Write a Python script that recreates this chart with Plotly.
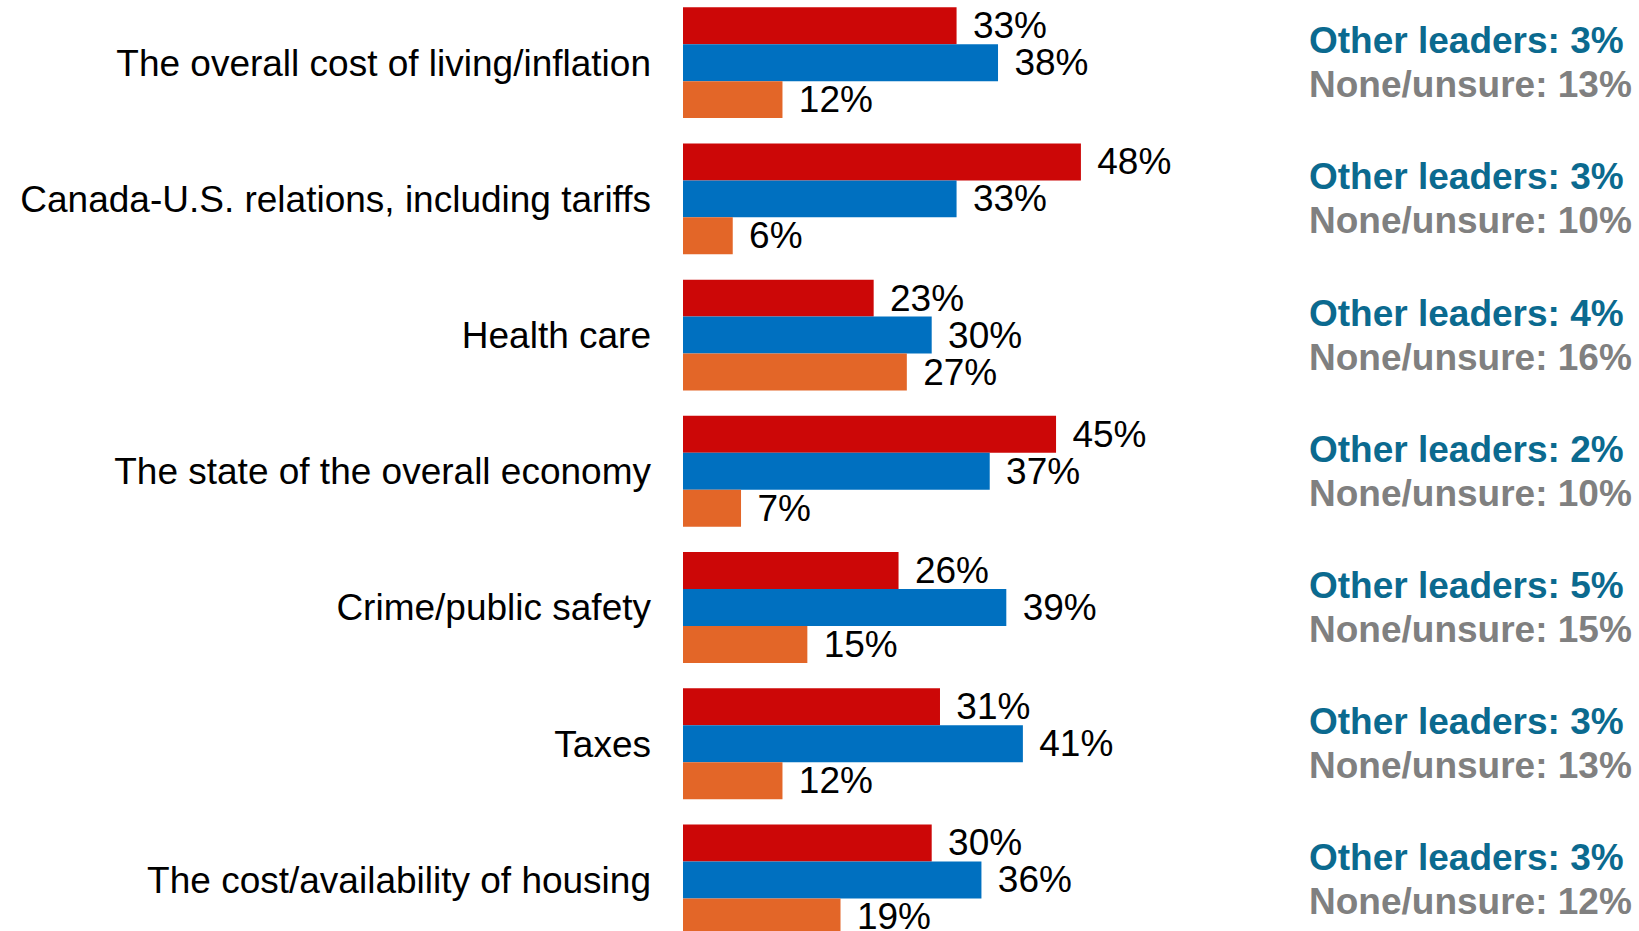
import plotly.graph_objects as go

categories = [
    "The overall cost of living/inflation",
    "Canada-U.S. relations, including tariffs",
    "Health care",
    "The state of the overall economy",
    "Crime/public safety",
    "Taxes",
    "The cost/availability of housing",
]
red_values = [33, 48, 23, 45, 26, 31, 30]
blue_values = [38, 33, 30, 37, 39, 41, 36]
orange_values = [12, 6, 27, 7, 15, 12, 19]
other_leaders = [3, 3, 4, 2, 5, 3, 3]
none_unsure = [13, 10, 16, 10, 15, 13, 12]

RED = "#CC0707"
BLUE = "#0070C0"
ORANGE = "#E36628"
TEAL = "#0B6A8F"
GRAY = "#808080"
FONT = "Liberation Sans, Arial, sans-serif"

fig = go.Figure()
for vals, col in [(red_values, RED), (blue_values, BLUE), (orange_values, ORANGE)]:
    fig.add_trace(go.Bar(
        y=categories, x=vals, orientation="h",
        marker=dict(color=col, line=dict(width=0)),
        text=[f"\u00a0\u200a{v}%" for v in vals],
        textposition="outside", constraintext="none", cliponaxis=True,
        textfont=dict(family=FONT, size=37, color="black"),
        hoverinfo="skip", showlegend=False,
    ))

for i, cat in enumerate(categories):
    fig.add_annotation(
        x=0.6527, xref="paper", y=cat, yref="y", xanchor="left", yanchor="middle",
        yshift=22, showarrow=False,
        text=f"<b>Other leaders: {other_leaders[i]}%</b>",
        font=dict(family=FONT, size=37, color=TEAL),
    )
    fig.add_annotation(
        x=0.6527, xref="paper", y=cat, yref="y", xanchor="left", yanchor="middle",
        yshift=-22, showarrow=False,
        text=f"<b>None/unsure: {none_unsure[i]}%</b>",
        font=dict(family=FONT, size=37, color=GRAY),
    )

fig.update_layout(
    width=1639, height=931,
    margin=dict(l=683, r=0, t=0, b=0),
    barmode="group", bargap=0.186, bargroupgap=0,
    plot_bgcolor="white", paper_bgcolor="white",
    font=dict(family=FONT, color="black"),
)
fig.update_xaxes(range=[0, 956 / 8.29], visible=False, fixedrange=True)
fig.update_yaxes(
    type="category", range=[6.375, -0.46], showgrid=False, zeroline=False,
    showline=False, ticks="", ticklabelstandoff=31,
    tickfont=dict(family=FONT, size=37, color="black"), fixedrange=True,
)

fig.write_html(
    "out.html",
    config={"displayModeBar": False},
    post_script="document.body.style.margin='0';document.body.style.overflow='hidden';",
)
